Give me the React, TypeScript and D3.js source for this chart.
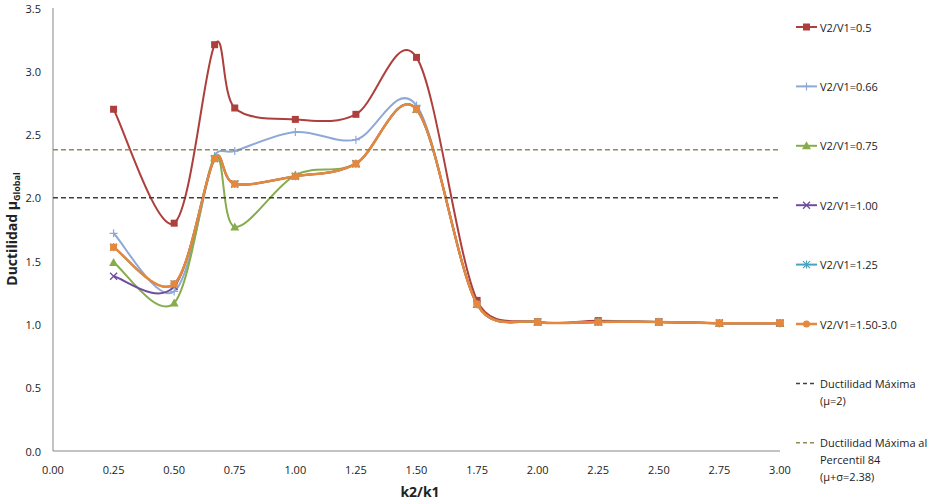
import React from "react";
import * as d3 from "d3";

const xValues = [0.25, 0.5, 0.667, 0.75, 1.0, 1.25, 1.5, 1.75, 2.0, 2.25, 2.5, 2.75, 3.0];

const s050 = [2.70, 1.80, 3.21, 2.71, 2.62, 2.66, 3.11, 1.19, 1.02, 1.03, 1.02, 1.01, 1.01];
const s066 = [1.72, 1.26, 2.33, 2.37, 2.52, 2.46, 2.73, 1.16, 1.02, 1.02, 1.02, 1.01, 1.01];
const s075 = [1.49, 1.17, 2.32, 1.77, 2.18, 2.27, 2.70, 1.16, 1.02, 1.02, 1.02, 1.01, 1.01];
const s100 = [1.38, 1.30, 2.31, 2.11, 2.17, 2.27, 2.70, 1.16, 1.02, 1.02, 1.02, 1.01, 1.01];
const s125 = [1.61, 1.32, 2.31, 2.11, 2.17, 2.27, 2.70, 1.16, 1.02, 1.02, 1.02, 1.01, 1.01];
const s150 = [1.61, 1.32, 2.31, 2.11, 2.17, 2.27, 2.70, 1.16, 1.02, 1.02, 1.02, 1.01, 1.01];

const refMax = 2.0;
const refP84 = 2.38;

const xTicks = [0, 0.25, 0.5, 0.75, 1.0, 1.25, 1.5, 1.75, 2.0, 2.25, 2.5, 2.75, 3.0];
const yTicks = [0, 0.5, 1.0, 1.5, 2.0, 2.5, 3.0, 3.5];

type Marker = "square" | "plus" | "triangle" | "x" | "star" | "circle";

const series: { name: string; values: number[]; color: string; width: number; marker: Marker; legendMarker: Marker }[] = [
  { name: "V2/V1=0.5", values: s050, color: "#AD3F3C", width: 2, marker: "square", legendMarker: "square" },
  { name: "V2/V1=0.66", values: s066, color: "#8EA9D7", width: 2, marker: "plus", legendMarker: "plus" },
  { name: "V2/V1=0.75", values: s075, color: "#87AC4C", width: 2, marker: "triangle", legendMarker: "triangle" },
  { name: "V2/V1=1.00", values: s100, color: "#6E4E9C", width: 2, marker: "x", legendMarker: "x" },
  { name: "V2/V1=1.25", values: s125, color: "#4AA3BC", width: 2, marker: "star", legendMarker: "star" },
  { name: "V2/V1=1.50-3.0", values: s150, color: "#E5873C", width: 2.5, marker: "square", legendMarker: "circle" },
];

const FONT = "'Open Sans', 'Liberation Sans', sans-serif";

// Excel-like smoothed curve: Catmull-Rom bezier with control arms limited to half the segment length
function smoothPath(pts: [number, number][]): string {
  const p = d3.path();
  const n = pts.length;
  if (!n) return "";
  p.moveTo(pts[0][0], pts[0][1]);
  for (let i = 0; i < n - 1; i++) {
    const p0 = pts[i - 1] ?? pts[i];
    const p1 = pts[i];
    const p2 = pts[i + 1];
    const p3 = pts[i + 2] ?? pts[i + 1];
    const d12 = Math.hypot(p2[0] - p1[0], p2[1] - p1[1]);
    let t1x = (p2[0] - p0[0]) / 6;
    let t1y = (p2[1] - p0[1]) / 6;
    let t2x = (p3[0] - p1[0]) / 6;
    let t2y = (p3[1] - p1[1]) / 6;
    const l1 = Math.hypot(t1x, t1y);
    const l2 = Math.hypot(t2x, t2y);
    if (l1 > d12 / 2 && l1 > 0) {
      t1x *= d12 / 2 / l1;
      t1y *= d12 / 2 / l1;
    }
    if (l2 > d12 / 2 && l2 > 0) {
      t2x *= d12 / 2 / l2;
      t2y *= d12 / 2 / l2;
    }
    p.bezierCurveTo(p1[0] + t1x, p1[1] + t1y, p2[0] - t2x, p2[1] - t2y, p2[0], p2[1]);
  }
  return p.toString();
}

function MarkerShape({ type, x, y, color }: { type: Marker; x: number; y: number; color: string }) {
  switch (type) {
    case "square":
      return <rect x={x - 3.5} y={y - 3.5} width={7} height={7} fill={color} />;
    case "circle":
      return <circle cx={x} cy={y} r={3.5} fill={color} />;
    case "triangle":
      return <path d={`M${x},${y - 4.5}L${x + 4.5},${y + 3.5}L${x - 4.5},${y + 3.5}Z`} fill={color} />;
    case "plus":
      return (
        <path d={`M${x - 4},${y}H${x + 4}M${x},${y - 4}V${y + 4}`} stroke={color} strokeWidth={1.2} fill="none" />
      );
    case "x":
      return (
        <path d={`M${x - 3.5},${y - 3.5}L${x + 3.5},${y + 3.5}M${x - 3.5},${y + 3.5}L${x + 3.5},${y - 3.5}`} stroke={color} strokeWidth={1.3} fill="none" />
      );
    case "star":
      return (
        <path d={`M${x - 3.5},${y - 3.5}L${x + 3.5},${y + 3.5}M${x - 3.5},${y + 3.5}L${x + 3.5},${y - 3.5}M${x},${y - 4}V${y + 4}`} stroke={color} strokeWidth={1.2} fill="none" />
      );
  }
}

export default function App() {
  const W = 936;
  const H = 503;
  const x = d3.scaleLinear().domain([0, 3]).range([53, 780]);
  const y = d3.scaleLinear().domain([0, 3.5]).range([451, 8]);

  const legendX = 796;
  const legendY0 = 27;
  const legendStep = 59.4;

  return (
    <svg width={W} height={H} style={{ position: "absolute", left: 0, top: 0, fontFamily: FONT }}>
      <rect x={0} y={0} width={W} height={H} fill="#fff" />
      {/* axes */}
      <line x1={53} y1={8} x2={53} y2={451} stroke="#888" strokeWidth={1} />
      <line x1={53} y1={451} x2={780} y2={451} stroke="#888" strokeWidth={1} />
      {yTicks.map((t) => (
        <text key={t} x={41} y={y(t)} textAnchor="end" dominantBaseline="central" fontSize={11} fill="#222">
          {t.toFixed(1)}
        </text>
      ))}
      {xTicks.map((t) => (
        <text key={t} x={x(t)} y={469} textAnchor="middle" dominantBaseline="central" fontSize={11} fill="#222">
          {t.toFixed(2)}
        </text>
      ))}
      <text x={420} y={491} textAnchor="middle" dominantBaseline="central" fontSize={14} fontWeight="bold" fill="#222">
        k2/k1
      </text>
      <text transform="translate(17,229) rotate(-90)" textAnchor="middle" fontSize={14} fontWeight="bold" fill="#222">
        Ductilidad μ
        <tspan fontSize={9} dy={3}>Global</tspan>
      </text>

      {/* series */}
      {series.map((s) => {
        const pts = s.values.map((v, i) => [x(xValues[i]), y(v)] as [number, number]);
        return (
          <g key={s.name}>
            <path d={smoothPath(pts)} fill="none" stroke={s.color} strokeWidth={s.width} />
            {pts.map((pt, i) => (
              <MarkerShape key={i} type={s.marker} x={pt[0]} y={pt[1]} color={s.color} />
            ))}
          </g>
        );
      })}

      {/* reference lines */}
      <line x1={x(0)} x2={x(3)} y1={y(refMax)} y2={y(refMax)} stroke="#404040" strokeWidth={1.5} strokeDasharray="5,3" />
      <line x1={x(0)} x2={x(3)} y1={y(refP84)} y2={y(refP84)} stroke="#948A54" strokeWidth={1.5} strokeDasharray="5,3" />

      {/* legend */}
      {series.map((s, i) => {
        const ly = legendY0 + i * legendStep;
        return (
          <g key={s.name}>
            <line x1={legendX} x2={legendX + 21} y1={ly} y2={ly} stroke={s.color} strokeWidth={s.width} />
            <MarkerShape type={s.legendMarker} x={legendX + 10.5} y={ly} color={s.color} />
            <text x={legendX + 24} y={ly} dominantBaseline="central" fontSize={11} fill="#222">
              {s.name}
            </text>
          </g>
        );
      })}
      {[
        { color: "#404040", lines: ["Ductilidad Máxima", "(μ=2)"] },
        { color: "#948A54", lines: ["Ductilidad Máxima al", "Percentil 84", "(μ+σ=2.38)"] },
      ].map((r, j) => {
        const ly = legendY0 + (6 + j) * legendStep;
        return (
          <g key={j}>
            <line x1={legendX} x2={legendX + 21} y1={ly} y2={ly} stroke={r.color} strokeWidth={1.5} strokeDasharray="4,3" />
            {r.lines.map((t, k) => (
              <text key={k} x={legendX + 24} y={ly + k * 17} dominantBaseline="central" fontSize={11} fill="#222">
                {t}
              </text>
            ))}
          </g>
        );
      })}
    </svg>
  );
}
